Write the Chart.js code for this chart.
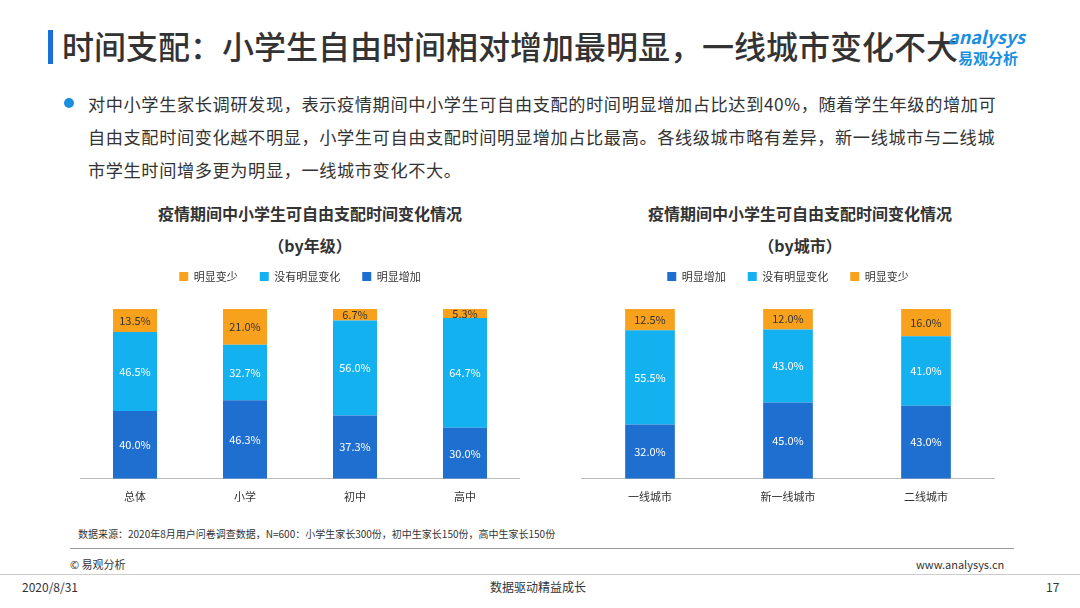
<!DOCTYPE html><html><head><meta charset="utf-8">
<script src="https://cdn.jsdelivr.net/npm/chart.js@4"></script>
<style>
body{margin:0;width:1080px;height:608px;background:#fff;font-family:"Noto Sans CJK SC","Noto Sans",sans-serif;position:relative;overflow:hidden;color:#333}
.a{position:absolute;white-space:nowrap}
canvas{position:absolute}
</style></head><body>
<div class="a" style="left:48px;top:30px;width:5px;height:34px;background:#1a6fd6"></div>
<div class="a" style="left:62px;top:22px;font-size:32px;font-weight:500;color:#333">时间支配：小学生自由时间相对增加最明显，一线城市变化不大</div>
<div class="a" style="left:948px;top:26px;font-size:18px;font-style:italic;font-weight:bold;color:#1a8fe0;line-height:20px">analysys<br><span style="font-size:15px;font-style:normal;margin-left:10px">易观分析</span></div>
<div class="a" style="left:64px;top:98px;width:10px;height:10px;border-radius:50%;background:#1a8fe0"></div>
<div class="a" style="left:88px;top:87px;font-size:17.2px;letter-spacing:0.6px;line-height:33px;white-space:normal;width:918px">对中小学生家长调研发现，表示疫情期间中小学生可自由支配的时间明显增加占比达到40%，随着学生年级的增加可<br>自由支配时间变化越不明显，小学生可自由支配时间明显增加占比最高。各线级城市略有差异，新一线城市与二线城<br>市学生时间增多更为明显，一线城市变化不大。</div>
<div class="a" style="left:100px;width:420px;text-align:center;top:197px;font-size:16px;font-weight:bold;line-height:32px">疫情期间中小学生可自由支配时间变化情况<br>（by年级）</div>
<div class="a" style="left:590px;width:420px;text-align:center;top:197px;font-size:16px;font-weight:bold;line-height:32px">疫情期间中小学生可自由支配时间变化情况<br>（by城市）</div>
<canvas id="c1" style="left:80px;top:249px;width:440px;height:261px"></canvas>
<canvas id="c2" style="left:581px;top:249px;width:414px;height:261px"></canvas>
<div class="a" style="left:78px;top:526px;font-size:10px">数据来源：2020年8月用户问卷调查数据，N=600：小学生家长300份，初中生家长150份，高中生家长150份</div>
<div class="a" style="left:70px;top:548px;width:944px;height:1px;background:#999"></div>
<div class="a" style="left:70px;top:556px;font-size:11px">© 易观分析</div>
<div class="a" style="left:916px;top:556px;font-size:11px">www.analysys.cn</div>
<div class="a" style="left:0;top:574px;width:1080px;height:1px;background:#ccc"></div>
<div class="a" style="left:22px;top:578px;font-size:12px">2020/8/31</div>
<div class="a" style="left:490px;top:578px;font-size:12px">数据驱动精益成长</div>
<div class="a" style="left:1046px;top:578px;font-size:12px">17</div>
<script>
const gradeCats=["总体","小学","初中","高中"];
const gradeInc=[40.0,46.3,37.3,30.0];
const gradeSame=[46.5,32.7,56.0,64.7];
const gradeDec=[13.5,21.0,6.7,5.3];
const cityCats=["一线城市","新一线城市","二线城市"];
const cityInc=[32.0,45.0,43.0];
const citySame=[55.5,43.0,41.0];
const cityDec=[12.5,12.0,16.0];
const C_INC="#1f6fd0",C_SAME="#14b1f0",C_DEC="#f8a11c";
const font='"Noto Sans CJK SC",sans-serif';
const lbl={id:'lbl',afterDatasetsDraw(ch){const x=ch.ctx;x.save();x.font='11px '+font;x.textAlign='center';x.textBaseline='middle';
ch.data.datasets.forEach((d,i)=>{ch.getDatasetMeta(i).data.forEach((b,j)=>{x.fillStyle=d.backgroundColor===C_DEC?'#333':'#fff';x.fillText(d.data[j].toFixed(1)+'%',b.x,(b.y+b.base)/2);});});x.restore();}};
const legPad={id:'legPad',beforeInit(ch){const f=ch.legend.fit;ch.legend.fit=function(){f.bind(ch.legend)();this.height+=17;};}};
function mk(id,cats,inc,same,dec,rev,bp){
new Chart(document.getElementById(id),{type:'bar',data:{labels:cats,datasets:[
{label:'明显增加',data:inc,backgroundColor:C_INC},
{label:'没有明显变化',data:same,backgroundColor:C_SAME},
{label:'明显变少',data:dec,backgroundColor:C_DEC}]},
options:{responsive:false,animation:false,devicePixelRatio:1,barPercentage:bp,categoryPercentage:1,
layout:{padding:{top:0,bottom:4}},
plugins:{legend:{reverse:rev,labels:{boxWidth:9,boxHeight:9,padding:22,font:{size:11,family:font},color:'#333'}},tooltip:{enabled:false}},
scales:{x:{stacked:true,grid:{display:false},border:{color:'#bbb'},ticks:{color:'#333',font:{size:11,family:font}}},
y:{stacked:true,display:false,min:0,max:100}}},plugins:[lbl,legPad]});}
mk('c1',gradeCats,gradeInc,gradeSame,gradeDec,true,0.4);
mk('c2',cityCats,cityInc,citySame,cityDec,false,0.36);
</script></body></html>
